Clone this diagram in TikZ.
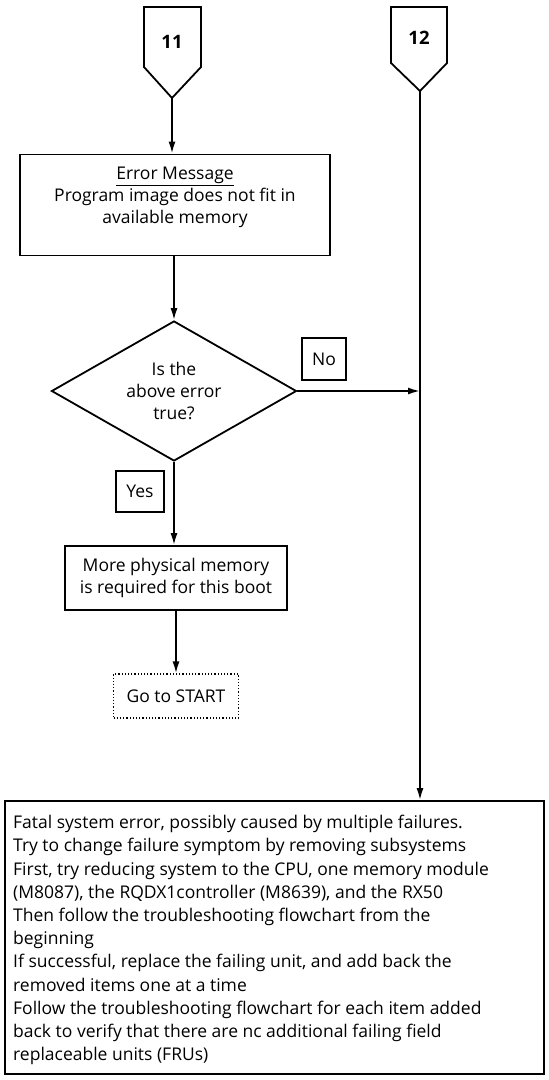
\documentclass[tikz,border=0pt]{standalone}
\usepackage{fontspec}
\setmainfont{Open Sans}
\usetikzlibrary{arrows.meta,shapes.geometric}
\begin{document}
\begin{tikzpicture}[x=1pt,y=-1pt,
  every node/.style={font=\fontsize{17.5}{22}\selectfont},
  rule/.style={line width=1.8pt},
  flow/.style={rule,-{Latex[length=12pt,width=7pt]}},
  procbox/.style={draw,rule,rectangle,align=center,inner sep=0pt},
  tagbox/.style={draw,line width=1.6pt,rectangle,inner sep=0pt,minimum width=44pt,minimum height=42pt},
  gotobox/.style={draw,dotted,line width=1.2pt,rectangle,inner sep=0pt},
  decision/.style={draw,rule,diamond,aspect=1.75,align=center,inner sep=0pt,
                   minimum width=245pt,minimum height=140pt},
  offpage/.style={rule,line join=miter}
]
\useasboundingbox (0,0) rectangle (549,1080);

% off-page connectors 11 and 12
\coordinate (t11) at (172,98);
\draw[offpage] (144,7) -- (201,7) -- (201,67) -- (t11) -- (144,67) -- cycle;
\node[font=\fontsize{18.5}{22}\selectfont\bfseries] (n11) at (172,42) {11};
\coordinate (t12) at (420,91);
\draw[offpage] (391,7) -- (447,7) -- (447,63) -- (t12) -- (391,63) -- cycle;
\node[font=\fontsize{18.5}{22}\selectfont\bfseries] (n12) at (419,38) {12};

% main boxes
\node[procbox,minimum width=310pt,minimum height=101pt] (err) at (175,205)
  {\underline{Error Message}\\Program image does not fit in\\available memory\\[-3pt]};
\node[decision] (dia) at (174,391) {Is the\\above error\\true?};
\node[tagbox] (no) at (324,359) {No};
\node[tagbox,minimum width=48pt,minimum height=41pt] (yes) at (140,491.5) {Yes};
\node[procbox,minimum width=222pt,minimum height=64pt] (mem) at (176,578)
  {\rule{0pt}{9pt}More physical memory\\is required for this boot};
\node[gotobox,minimum width=125pt,minimum height=44pt] (go) at (176,696) {Go to START};

% final box
\node[draw,rule,rectangle,inner sep=0pt,minimum width=539pt,minimum height=273pt] (fatal) at (274.5,937.5) {};
\node[anchor=west,align=left,inner sep=0pt,font=\fontsize{17.5}{23.2}\selectfont] (fataltext) at (13,940)
  {Fatal system error, possibly caused by multiple failures.\\
   Try to change failure symptom by removing subsystems\\
   First, try reducing system to the CPU, one memory module\\
   (M8087), the RQDX1controller (M8639), and the RX50\\
   Then follow the troubleshooting flowchart from the\\
   beginning\\
   If successful, replace the failing unit, and add back the\\
   removed items one at a time\\
   Follow the troubleshooting flowchart for each item added\\
   back to verify that there are nc additional failing field\\
   replaceable units (FRUs)};

% connectors
\coordinate (join) at (dia.east -| t12);
\draw[flow] (t11) -- (t11 |- err.north);
\draw[flow] (dia.north |- err.south) -- (dia.north);
\draw[flow] (dia.east) -- (join);
\draw[flow] (t12) -- (t12 |- fatal.north);
\draw[flow] (dia.south) -- (dia.south |- mem.north);
\draw[flow] (go.north |- mem.south) -- (go.north);
\end{tikzpicture}
\end{document}
